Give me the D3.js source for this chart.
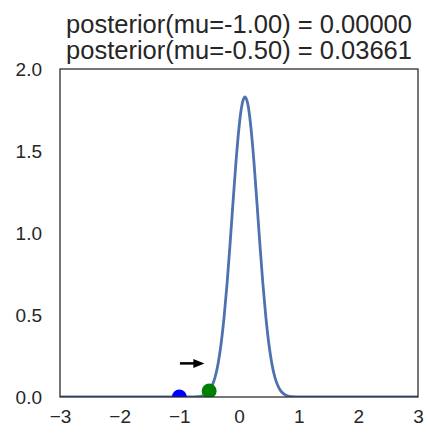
<!DOCTYPE html>
<html><head><meta charset="utf-8">
<script src="https://cdn.jsdelivr.net/npm/d3@7"></script>
<style>body{margin:0;background:#fff;} text{font-family:"Liberation Sans",Arial,sans-serif;fill:#262626;}</style>
</head><body><svg id="c" width="428" height="433"></svg>
<script>
// Posterior curve
const muGrid = [-3,-2,-1.5,-1,-0.8,-0.7,-0.65,-0.6,-0.55,-0.5,-0.45,-0.4,-0.35,-0.3,-0.25,-0.2,-0.15,-0.1,-0.05,0,0.05,0.1,0.15,0.2,0.25,0.3,0.35,0.4,0.45,0.5,0.55,0.6,0.65,0.7,0.75,0.8,0.85,0.9,1.0,1.5,2,3];
const posterior = [0,0,0,0,0.0003,0.0018,0.0041,0.0092,0.019,0.037,0.070,0.122,0.205,0.325,0.487,0.692,0.932,1.188,1.436,1.643,1.782,1.830,1.782,1.643,1.436,1.188,0.932,0.692,0.487,0.325,0.205,0.122,0.070,0.037,0.019,0.0092,0.0041,0.0018,0.0003,0,0,0];
const currentMu = -1.00, currentPost = 0.00000;
const proposedMu = -0.50, proposedPost = 0.03661;
const arrowFrom = [-0.99, 0.205], arrowTo = [-0.58, 0.205];
const xTicks = [-3,-2,-1,0,1,2,3];
const yTicks = [0,0.5,1.0,1.5,2.0];
const titleLines = ["posterior(mu=-1.00) = 0.00000","posterior(mu=-0.50) = 0.03661"];

const svg = d3.select("#c");
const L=60, R=418, T=69, B=397;
const x = d3.scaleLinear().domain([-3,3]).range([L,R]);
const y = d3.scaleLinear().domain([0,2]).range([B,T]);

svg.append("defs").append("clipPath").attr("id","clip").append("rect")
  .attr("x",L).attr("y",T).attr("width",R-L).attr("height",B-T);

const g = svg.append("g").attr("clip-path","url(#clip)");
const line = d3.line().x((d,i)=>x(muGrid[i])).y(d=>y(d)).curve(d3.curveMonotoneX);
g.append("path").datum(posterior).attr("d",line).attr("fill","none")
  .attr("stroke","#4C72B0").attr("stroke-width",2.8);

g.append("circle").attr("cx",x(currentMu)).attr("cy",y(currentPost)).attr("r",7.5).attr("fill","#0000ff");
g.append("circle").attr("cx",x(proposedMu)).attr("cy",y(proposedPost)).attr("r",7.5).attr("fill","#008000");

// arrow
const ax0=x(arrowFrom[0]), ay=y(arrowFrom[1]), ax1=x(arrowTo[0]);
svg.append("line").attr("x1",ax0).attr("y1",ay).attr("x2",ax1-8).attr("y2",ay)
  .attr("stroke","#000").attr("stroke-width",2.5);
svg.append("path").attr("d",`M${ax1},${ay} L${ax1-11},${ay-4.5} L${ax1-11},${ay+4.5} Z`).attr("fill","#000");

// frame
svg.append("rect").attr("x",L).attr("y",T).attr("width",R-L).attr("height",B-T)
  .attr("fill","none").attr("stroke","#262626").attr("stroke-width",1.25);

// axes
const fmtX = d=> d<0 ? "\u2212"+Math.abs(d) : String(d);
const xa = svg.append("g").attr("transform",`translate(0,${B})`)
  .call(d3.axisBottom(x).tickValues(xTicks).tickFormat(fmtX).tickSize(0).tickPadding(13));
const ya = svg.append("g").attr("transform",`translate(${L},0)`)
  .call(d3.axisLeft(y).tickValues(yTicks).tickFormat(d3.format(".1f")).tickSize(0).tickPadding(18));
[xa,ya].forEach(a=>{a.select(".domain").remove(); a.selectAll("text").style("font-size","19px").attr("fill","#262626");});

const title = svg.append("text").attr("text-anchor","middle").style("font-size","25.5px");
title.append("tspan").attr("x",(L+R)/2).attr("y",33).text(titleLines[0]);
title.append("tspan").attr("x",(L+R)/2).attr("y",59).text(titleLines[1]);
</script></body></html>
